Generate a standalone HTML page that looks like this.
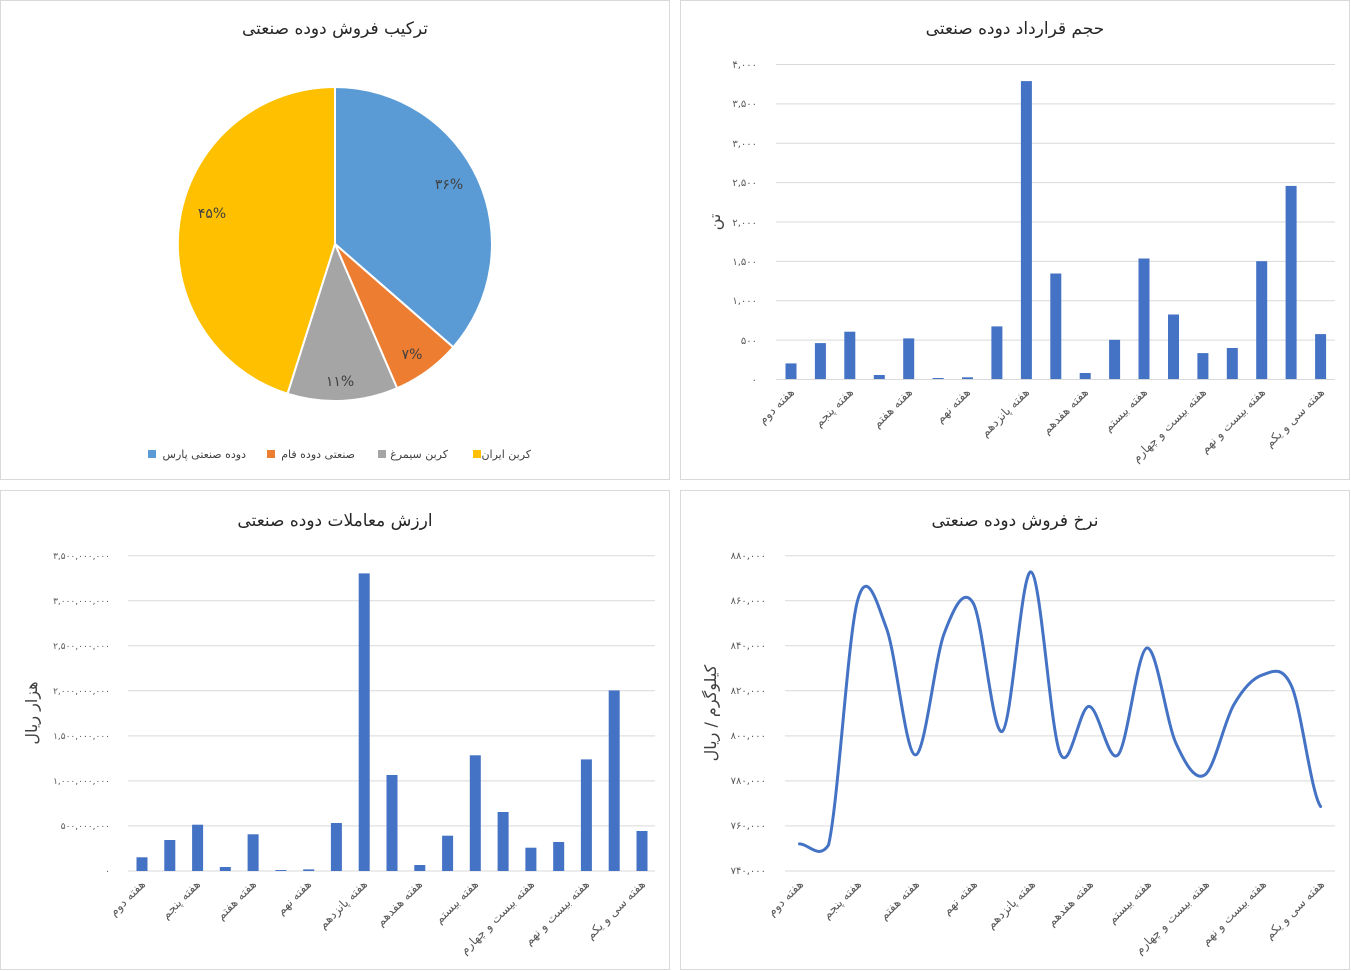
<!DOCTYPE html>
<html><head><meta charset="utf-8"><style>
body{margin:0;background:#fff;}
svg{display:block;font-family:"DejaVu Sans",sans-serif;}
.t{font-size:17px;fill:#262626;text-anchor:middle}
.y{font-size:10px;fill:#595959;text-anchor:end}
.y9{font-size:9px;fill:#595959;text-anchor:end}
.x{font-size:12px;fill:#595959;text-anchor:end}
.g{stroke:#d9d9d9;stroke-width:1}
.b{fill:#4472C4}
.l{font-size:11px;fill:#404040}
</style></head><body>
<svg width="1351" height="971" viewBox="0 0 1351 971">
<rect x="0" y="0" width="1351" height="971" fill="#fff"/>
<g fill="none" stroke="#d9d9d9">
<rect x="0.5" y="0.5" width="669" height="479"/>
<rect x="680.5" y="0.5" width="669" height="479"/>
<rect x="0.5" y="490.5" width="669" height="479"/>
<rect x="680.5" y="490.5" width="669" height="479"/>
</g>

<!-- PIE -->
<text class="t" x="335" y="34">ترکیب فروش دوده صنعتی</text>
<g stroke="#fff" stroke-width="2">
<path d="M335,244 L335,87 A157,157 0 0 1 453.3,347.2 Z" fill="#5B9BD5"/>
<path d="M335,244 L453.3,347.2 A157,157 0 0 1 397.1,388.2 Z" fill="#ED7D31"/>
<path d="M335,244 L397.1,388.2 A157,157 0 0 1 287.5,393.7 Z" fill="#A5A5A5"/>
<path d="M335,244 L287.5,393.7 A157,157 0 0 1 335,87 Z" fill="#FFC000"/>
</g>
<g font-size="14" fill="#404040" text-anchor="middle">
<text x="449" y="189">۳۶%</text>
<text x="412" y="359">۷%</text>
<text x="340" y="386">۱۱%</text>
<text x="212" y="218">۴۵%</text>
</g>
<rect x="148" y="450" width="8" height="8" fill="#5B9BD5"/>
<text class="l" x="246" y="458" text-anchor="end">دوده صنعتی پارس</text>
<rect x="267" y="450" width="8" height="8" fill="#ED7D31"/>
<text class="l" x="355" y="458" text-anchor="end">صنعتی دوده فام</text>
<rect x="378" y="450" width="8" height="8" fill="#A5A5A5"/>
<text class="l" x="448" y="458" text-anchor="end">کربن سیمرغ</text>
<rect x="473" y="450" width="8" height="8" fill="#FFC000"/>
<text class="l" x="531" y="458" text-anchor="end">کربن ایران</text>

<!-- TOP RIGHT -->
<text class="t" x="1015" y="34">حجم قرارداد دوده صنعتی</text>
<g class="g">
<line x1="776" x2="1335" y1="64.5" y2="64.5"/><line x1="776" x2="1335" y1="103.9" y2="103.9"/>
<line x1="776" x2="1335" y1="143.3" y2="143.3"/><line x1="776" x2="1335" y1="182.6" y2="182.6"/>
<line x1="776" x2="1335" y1="222" y2="222"/><line x1="776" x2="1335" y1="261.4" y2="261.4"/>
<line x1="776" x2="1335" y1="300.8" y2="300.8"/><line x1="776" x2="1335" y1="340.1" y2="340.1"/>
<line x1="776" x2="1335" y1="379.5" y2="379.5"/>
</g>
<g class="y">
<text x="757" y="68">۴,۰۰۰</text><text x="757" y="107">۳,۵۰۰</text><text x="757" y="147">۳,۰۰۰</text>
<text x="757" y="186">۲,۵۰۰</text><text x="757" y="226">۲,۰۰۰</text><text x="757" y="265">۱,۵۰۰</text>
<text x="757" y="304">۱,۰۰۰</text><text x="757" y="344">۵۰۰</text><text x="757" y="383">۰</text>
</g>
<text x="720" y="222" font-size="16" fill="#404040" text-anchor="middle" transform="rotate(-90 720 222)">تن</text>
<g class="b">
<rect x="785.5" y="363.4" width="11" height="15.6"/>
<rect x="814.9" y="343.1" width="11" height="35.9"/>
<rect x="844.3" y="331.7" width="11" height="47.3"/>
<rect x="873.8" y="375" width="11" height="4"/>
<rect x="903.2" y="338.4" width="11" height="40.6"/>
<rect x="932.6" y="378" width="11" height="1"/>
<rect x="962" y="377.3" width="11" height="1.7"/>
<rect x="991.4" y="326.4" width="11" height="52.6"/>
<rect x="1020.9" y="81.1" width="11" height="297.9"/>
<rect x="1050.3" y="273.5" width="11" height="105.5"/>
<rect x="1079.7" y="373" width="11" height="6"/>
<rect x="1109.1" y="339.8" width="11" height="39.2"/>
<rect x="1138.5" y="258.5" width="11" height="120.5"/>
<rect x="1168" y="314.5" width="11" height="64.5"/>
<rect x="1197.4" y="353.1" width="11" height="25.9"/>
<rect x="1226.8" y="348" width="11" height="31"/>
<rect x="1256.2" y="261.2" width="11" height="117.8"/>
<rect x="1285.6" y="185.9" width="11" height="193.1"/>
<rect x="1315.1" y="334.1" width="11" height="44.9"/>
</g>
<g class="x">
<text transform="translate(795,393) rotate(-45)">هفته دوم</text>
<text transform="translate(854,393) rotate(-45)">هفته پنجم</text>
<text transform="translate(913,393) rotate(-45)">هفته هفتم</text>
<text transform="translate(971,393) rotate(-45)">هفته نهم</text>
<text transform="translate(1030,393) rotate(-45)">هفته پانزدهم</text>
<text transform="translate(1089,393) rotate(-45)">هفته هفدهم</text>
<text transform="translate(1148,393) rotate(-45)">هفته بیستم</text>
<text transform="translate(1207,393) rotate(-45)">هفته بیست و چهارم</text>
<text transform="translate(1266,393) rotate(-45)">هفته بیست و نهم</text>
<text transform="translate(1325,393) rotate(-45)">هفته سی و یکم</text>
</g>

<!-- BOTTOM LEFT -->
<text class="t" x="335" y="526">ارزش معاملات دوده صنعتی</text>
<g class="g">
<line x1="128" x2="655" y1="555.7" y2="555.7"/><line x1="128" x2="655" y1="600.8" y2="600.8"/>
<line x1="128" x2="655" y1="645.8" y2="645.8"/><line x1="128" x2="655" y1="690.8" y2="690.8"/>
<line x1="128" x2="655" y1="735.9" y2="735.9"/><line x1="128" x2="655" y1="780.9" y2="780.9"/>
<line x1="128" x2="655" y1="825.9" y2="825.9"/><line x1="128" x2="655" y1="871" y2="871"/>
</g>
<g class="y9">
<text x="110" y="559">۳,۵۰۰,۰۰۰,۰۰۰</text><text x="110" y="604">۳,۰۰۰,۰۰۰,۰۰۰</text>
<text x="110" y="649">۲,۵۰۰,۰۰۰,۰۰۰</text><text x="110" y="694">۲,۰۰۰,۰۰۰,۰۰۰</text>
<text x="110" y="739">۱,۵۰۰,۰۰۰,۰۰۰</text><text x="110" y="784">۱,۰۰۰,۰۰۰,۰۰۰</text>
<text x="110" y="829">۵۰۰,۰۰۰,۰۰۰</text><text x="110" y="874">۰</text>
</g>
<text x="37" y="713" font-size="16" fill="#404040" text-anchor="middle" transform="rotate(-90 37 713)">هزار ریال</text>
<g class="b">
<rect x="136.5" y="857.3" width="11" height="13.7"/>
<rect x="164.3" y="840" width="11" height="31"/>
<rect x="192.1" y="824.7" width="11" height="46.3"/>
<rect x="219.8" y="867" width="11" height="4"/>
<rect x="247.6" y="834.3" width="11" height="36.7"/>
<rect x="275.4" y="870" width="11" height="1"/>
<rect x="303.2" y="869.4" width="11" height="1.6"/>
<rect x="330.9" y="823" width="11" height="48"/>
<rect x="358.7" y="573.4" width="11" height="297.6"/>
<rect x="386.5" y="775" width="11" height="96"/>
<rect x="414.3" y="865" width="11" height="6"/>
<rect x="442.1" y="835.7" width="11" height="35.3"/>
<rect x="469.8" y="755.3" width="11" height="115.7"/>
<rect x="497.6" y="812" width="11" height="59"/>
<rect x="525.4" y="847.7" width="11" height="23.3"/>
<rect x="553.2" y="842" width="11" height="29"/>
<rect x="580.9" y="759.4" width="11" height="111.6"/>
<rect x="608.7" y="690.4" width="11" height="180.6"/>
<rect x="636.5" y="831" width="11" height="40"/>
</g>
<g class="x">
<text transform="translate(146,885) rotate(-45)">هفته دوم</text>
<text transform="translate(201,885) rotate(-45)">هفته پنجم</text>
<text transform="translate(257,885) rotate(-45)">هفته هفتم</text>
<text transform="translate(312,885) rotate(-45)">هفته نهم</text>
<text transform="translate(368,885) rotate(-45)">هفته پانزدهم</text>
<text transform="translate(423,885) rotate(-45)">هفته هفدهم</text>
<text transform="translate(479,885) rotate(-45)">هفته بیستم</text>
<text transform="translate(535,885) rotate(-45)">هفته بیست و چهارم</text>
<text transform="translate(590,885) rotate(-45)">هفته بیست و نهم</text>
<text transform="translate(646,885) rotate(-45)">هفته سی و یکم</text>
</g>

<!-- BOTTOM RIGHT -->
<text class="t" x="1015" y="526">نرخ فروش دوده صنعتی</text>
<g class="g">
<line x1="785" x2="1335" y1="555.7" y2="555.7"/><line x1="785" x2="1335" y1="600.8" y2="600.8"/>
<line x1="785" x2="1335" y1="645.8" y2="645.8"/><line x1="785" x2="1335" y1="690.8" y2="690.8"/>
<line x1="785" x2="1335" y1="735.9" y2="735.9"/><line x1="785" x2="1335" y1="780.9" y2="780.9"/>
<line x1="785" x2="1335" y1="825.9" y2="825.9"/><line x1="785" x2="1335" y1="871" y2="871"/>
</g>
<g class="y">
<text x="766" y="559">۸۸۰,۰۰۰</text><text x="766" y="604">۸۶۰,۰۰۰</text>
<text x="766" y="649">۸۴۰,۰۰۰</text><text x="766" y="694">۸۲۰,۰۰۰</text>
<text x="766" y="739">۸۰۰,۰۰۰</text><text x="766" y="784">۷۸۰,۰۰۰</text>
<text x="766" y="829">۷۶۰,۰۰۰</text><text x="766" y="874">۷۴۰,۰۰۰</text>
</g>
<text x="716" y="713" font-size="16" fill="#404040" text-anchor="middle" transform="rotate(-90 716 713)">کیلوگرم / ریال</text>
<path fill="none" stroke="#4472C4" stroke-width="3" stroke-linecap="round" stroke-linejoin="round" d="M799.5,843.9 C809.15,844.1 818.85,860 828.5,845.1 C838.15,804.7 847.75,637.5 857.4,601.3 C867.05,565.1 876.75,602.5 886.4,628.1 C896.05,653.7 905.65,754.1 915.3,754.9 C924.95,755.7 934.65,658.4 944.3,633.1 C953.95,607.8 963.55,586.7 973.2,603.1 C982.85,619.5 992.55,736.6 1002.2,731.4 C1011.85,726.2 1021.45,568.3 1031.1,572 C1040.75,575.7 1050.45,730.9 1060.1,753.3 C1069.75,775.7 1079.35,706.1 1089,706.4 C1098.65,706.7 1108.35,764.6 1118,754.9 C1127.65,745.2 1137.25,650 1146.9,648 C1156.55,646 1166.25,721.9 1175.9,743.1 C1185.55,764.3 1195.15,781.3 1204.8,774.9 C1214.45,768.5 1224.15,721.5 1233.8,704.8 C1243.45,688.1 1253.050,677.9 1262.7,674.8 C1272.35,671.7 1282.05,664.6 1291.7,686.5 C1301.35,708.4 1310.95,793 1320.6,806.5"/>
<g class="x">
<text transform="translate(804,885) rotate(-45)">هفته دوم</text>
<text transform="translate(862,885) rotate(-45)">هفته پنجم</text>
<text transform="translate(920,885) rotate(-45)">هفته هفتم</text>
<text transform="translate(978,885) rotate(-45)">هفته نهم</text>
<text transform="translate(1036,885) rotate(-45)">هفته پانزدهم</text>
<text transform="translate(1094,885) rotate(-45)">هفته هفدهم</text>
<text transform="translate(1152,885) rotate(-45)">هفته بیستم</text>
<text transform="translate(1210,885) rotate(-45)">هفته بیست و چهارم</text>
<text transform="translate(1267,885) rotate(-45)">هفته بیست و نهم</text>
<text transform="translate(1325,885) rotate(-45)">هفته سی و یکم</text>
</g>
</svg>
</body></html>
